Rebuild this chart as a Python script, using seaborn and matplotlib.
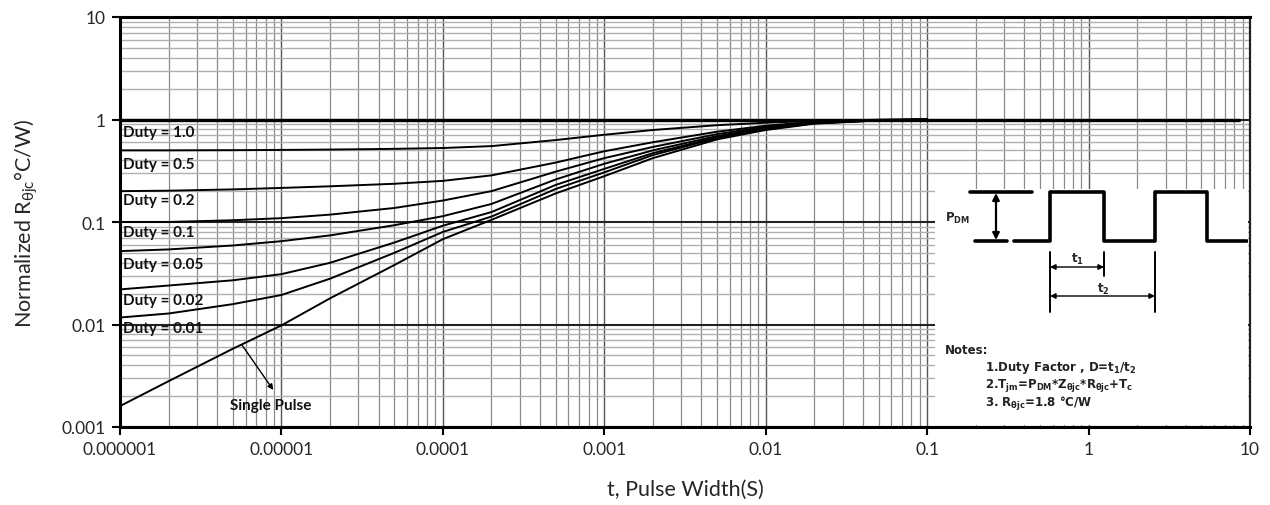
import numpy as np
import pandas as pd
import matplotlib.pyplot as plt
import seaborn as sns
from matplotlib.ticker import LogLocator, NullFormatter, FixedLocator

# pulse width (s) sample points
t = [1e-6, 2e-6, 5e-6, 1e-5, 2e-5, 5e-5, 1e-4, 2e-4, 5e-4,
     1e-3, 2e-3, 5e-3, 1e-2, 2e-2, 5e-2, 1e-1]

duty_05 = [0.5, 0.5, 0.502, 0.505, 0.509, 0.517, 0.527, 0.55, 0.63,
           0.71, 0.79, 0.88, 0.93, 0.97, 0.995, 1.0]
duty_02 = [0.2, 0.202, 0.208, 0.215, 0.223, 0.236, 0.252, 0.285, 0.38,
           0.49, 0.6, 0.76, 0.87, 0.95, 0.99, 1.0]
duty_01 = [0.1, 0.1, 0.104, 0.109, 0.118, 0.137, 0.162, 0.2, 0.31,
           0.42, 0.54, 0.72, 0.85, 0.94, 0.99, 1.0]
duty_005 = [0.052, 0.054, 0.059, 0.065, 0.074, 0.093, 0.114, 0.15, 0.26,
            0.37, 0.5, 0.69, 0.83, 0.93, 0.985, 1.0]
duty_002 = [0.022, 0.024, 0.027, 0.031, 0.040, 0.063, 0.092, 0.125, 0.23,
            0.33, 0.47, 0.67, 0.81, 0.92, 0.98, 1.0]
duty_001 = [0.0117, 0.0128, 0.0158, 0.0194, 0.028, 0.05, 0.08, 0.113, 0.21,
            0.305, 0.45, 0.66, 0.8, 0.92, 0.98, 1.0]
single = [0.0016, 0.0028, 0.0058, 0.0098, 0.018, 0.038, 0.068, 0.105, 0.19,
          0.28, 0.42, 0.64, 0.79, 0.91, 0.98, 1.0]

t_duty1 = [1e-6, 8.5]
duty_10 = [1.0, 1.0]

labels = ["Duty = 1.0", "Duty = 0.5", "Duty = 0.2", "Duty = 0.1",
          "Duty = 0.05", "Duty = 0.02", "Duty = 0.01"]
label_start = [1.0, 0.5, 0.2, 0.1, 0.052, 0.022, 0.0117]
label_drop = [13, 14, 9, 10, 13, 11, 10]   # pixels below the curve start

x_ticks = [1e-6, 1e-5, 1e-4, 1e-3, 1e-2, 1e-1, 1, 10]
x_ticklabels = ["0.000001", "0.00001", "0.0001", "0.001", "0.01", "0.1", "1", "10"]
y_ticks = [0.001, 0.01, 0.1, 1, 10]
y_ticklabels = ["0.001", "0.01", "0.1", "1", "10"]

sns.set_theme(style="white")
plt.rcParams['font.family'] = ['Lato', 'DejaVu Sans']
plt.rcParams['mathtext.default'] = 'regular'

fig = plt.figure(figsize=(12.7, 5.06), dpi=100)
ax = fig.add_axes([120 / 1270, 1 - 428 / 506, 1130 / 1270, 410 / 506])
ax.set(xscale='log', yscale='log')
ax.set_xlim(1e-6, 10)
ax.set_ylim(1e-3, 10)

# grid: dark decades, grey minors
ax.xaxis.set_minor_locator(LogLocator(base=10, subs=np.arange(2, 10)))
ax.yaxis.set_minor_locator(LogLocator(base=10, subs=np.arange(2, 10)))
ax.xaxis.set_minor_formatter(NullFormatter())
ax.yaxis.set_minor_formatter(NullFormatter())
ax.grid(True, which='minor', axis='x', color='#8a8a8a', lw=0.9)
ax.grid(True, which='minor', axis='y', color='#b0b0b0', lw=1.0)
ax.grid(True, which='major', axis='x', color='#555555', lw=1.0)
ax.grid(True, which='major', axis='y', color='#222222', lw=1.5)
ax.set_axisbelow(True)

curves = [duty_05, duty_02, duty_01, duty_005, duty_002, duty_001, single]
for vals in curves:
    sns.lineplot(x=t, y=vals, ax=ax, color='black', lw=1.4, estimator=None)
sns.lineplot(x=t_duty1, y=duty_10, ax=ax, color='black', lw=2.4, estimator=None)

for lab, y0, d in zip(labels, label_start, label_drop):
    ax.annotate(lab, xy=(1e-6, y0), xytext=(3, -d), textcoords='offset pixels',
                ha='left', va='center', fontsize=11, fontweight='bold', color='#111')

ax.text(8.6e-6, 0.00165, "Single Pulse", ha='center', va='center',
        fontsize=11, fontweight='bold', color='#111')
ax.annotate("", xy=(8.9e-6, 0.0023), xytext=(5.7e-6, 0.0063),
            arrowprops=dict(arrowstyle='-|>', color='black', lw=1.0,
                            shrinkA=0, shrinkB=0, mutation_scale=8))

ax.xaxis.set_major_locator(FixedLocator(x_ticks))
ax.set_xticklabels(x_ticklabels)
ax.yaxis.set_major_locator(FixedLocator(y_ticks))
ax.set_yticklabels(y_ticklabels)
ax.tick_params(axis='both', which='major', direction='out', length=6, width=1.5,
               color='black', labelsize=12.5, bottom=True, left=True, pad=4)
ax.tick_params(axis='both', which='minor', length=0)

for side in ['top', 'left', 'bottom']:
    ax.spines[side].set_linewidth(2.2)
    ax.spines[side].set_color('black')
ax.spines['right'].set_linewidth(1.6)
ax.spines['right'].set_color('#222')

ax.set_xlabel("t, Pulse Width(S)", fontsize=15.5, labelpad=16)
ax.set_ylabel("Normalized R$_{θjc}$°C/W)", fontsize=15.5, labelpad=16)

# inset: pulse waveform and notes, drawn in pixel coordinates
ins = fig.add_axes([935 / 1270, 1 - 426 / 506, 313 / 1270, 236 / 506])
ins.set_xlim(935, 1248)
ins.set_ylim(426, 190)
ins.set_facecolor('white')
ins.axis('off')
ins.add_patch(plt.Rectangle((935, 190), 313, 236, color='white', zorder=0))

lw_w = 2.6
ins.plot([970, 1032], [193, 193], color='black', lw=lw_w)
ins.plot([975, 1007], [242, 242], color='black', lw=lw_w)
ins.plot([1014, 1050, 1050, 1104, 1104, 1155, 1155, 1207, 1207, 1247],
         [242, 242, 193, 193, 242, 242, 193, 193, 242, 242], color='black', lw=lw_w)
ins.annotate("", xy=(996, 194), xytext=(996, 241),
             arrowprops=dict(arrowstyle='<|-|>', color='black', lw=1.6, mutation_scale=10,
                             shrinkA=0, shrinkB=0))
ins.text(945, 218, "P$_{DM}$", fontsize=8.5, fontweight='bold', va='center',
         family='DejaVu Sans')

ins.plot([1050, 1050], [253, 313], color='black', lw=1.4)
ins.plot([1104, 1104], [253, 277], color='black', lw=1.4)
ins.plot([1155, 1155], [253, 313], color='black', lw=1.4)
for x0, x1, yy in [(1050, 1104, 268), (1050, 1155, 297)]:
    ins.annotate("", xy=(x0, yy), xytext=(x1, yy),
                 arrowprops=dict(arrowstyle='<|-|>', color='black', lw=1.0,
                                 mutation_scale=8, shrinkA=0, shrinkB=0))
ins.text(1077, 259, "t$_1$", fontsize=8.5, ha='center', va='center',
         fontweight='bold', family='DejaVu Sans')
ins.text(1103, 289, "t$_2$", fontsize=8.5, ha='center', va='center',
         fontweight='bold', family='DejaVu Sans')

notes_kw = dict(fontsize=8.5, fontweight='bold', va='center', family='DejaVu Sans',
                color='#222')
ins.text(945, 350, "Notes:", **notes_kw)
ins.text(985, 368, "1.Duty Factor , D=t$_1$/t$_2$", **notes_kw)
ins.text(985, 386, "2.T$_{jm}$=P$_{DM}$*Z$_{θjc}$*R$_{θjc}$+T$_c$", **notes_kw)
ins.text(985, 404, "3. R$_{θjc}$=1.8 °C/W", **notes_kw)

fig.savefig("out.png", dpi=100, facecolor='white')
